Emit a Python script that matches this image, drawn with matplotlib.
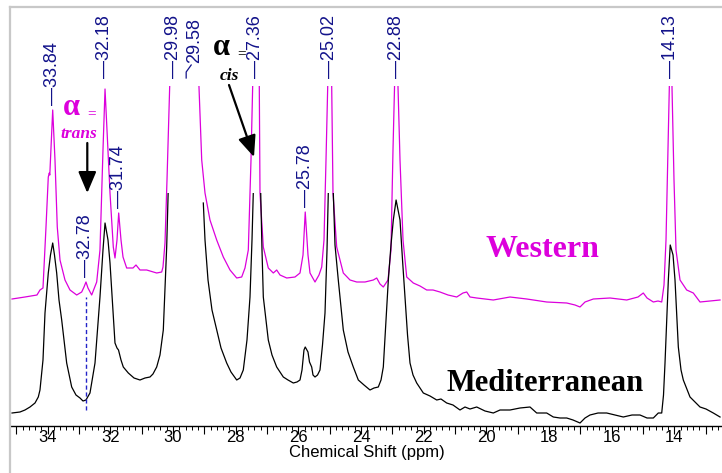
import numpy as np
import matplotlib
matplotlib.use("Agg")
import matplotlib.pyplot as plt
from matplotlib.patches import Rectangle
from matplotlib.lines import Line2D
from matplotlib.ticker import MultipleLocator, FuncFormatter

# ---------------- data ----------------
# Western spectrum (magenta): chemical shift (ppm) and intensity (a.u.)
western_ppm = [35.139, 34.725, 34.342, 34.246, 34.150, 34.054, 33.981, 33.949, 33.933, 33.840,
               33.767, 33.694, 33.607, 33.448, 33.288, 33.074, 32.915, 32.841, 32.778, 32.714,
               32.596, 32.436, 32.331, 32.235, 32.170, 32.075, 32.011, 31.906, 31.852, 31.788,
               31.734, 31.660, 31.596, 31.479, 31.277, 31.182, 31.054, 30.840, 30.521, 30.361,
               30.320, 30.256, 30.192, 30.128, 30.064, 29.980, 29.780, 29.580, 29.235, 29.171,
               29.084, 28.979, 28.820, 28.606, 28.395, 28.181, 27.967, 27.808, 27.703, 27.597,
               27.511, 27.457, 27.360, 27.246, 27.224, 27.118, 26.959, 26.799, 26.691, 26.585,
               26.371, 26.107, 25.947, 25.851, 25.780, 25.692, 25.628, 25.468, 25.341, 25.254,
               25.181, 25.117, 25.063, 25.020, 24.935, 24.894, 24.776, 24.565, 24.351, 24.137,
               23.872, 23.607, 23.499, 23.394, 23.288, 23.138, 23.043, 22.979, 22.930, 22.880,
               22.819, 22.755, 22.659, 22.541, 22.331, 22.117, 21.903, 21.702, 21.479, 21.223,
               20.945, 20.745, 20.626, 20.521, 20.307, 19.777, 19.244, 18.711, 18.072, 17.434,
               17.169, 17.010, 16.850, 16.585, 16.052, 15.519, 15.159, 14.990, 14.871, 14.670,
               14.520, 14.402, 14.329, 14.265, 14.201, 14.159, 14.130, 14.074, 14.010, 13.946,
               13.818, 13.605, 13.394, 13.180, 12.860, 12.541]
western_int = [127, 129, 131, 136, 138, 199, 249, 253, 251, 316,
               266, 199, 166, 146, 136, 131, 134, 139, 144, 138,
               131, 144, 176, 276, 337, 276, 233, 179, 168, 186,
               213, 186, 169, 158, 158, 161, 156, 156, 153, 154,
               159, 183, 246, 316, 386, 476, 430, 476, 386, 339,
               266, 233, 206, 186, 169, 156, 148, 149, 158, 176,
               266, 339, 476, 339, 233, 179, 158, 153, 156, 151,
               148, 149, 153, 171, 214, 171, 153, 144, 151, 159,
               186, 266, 339, 476, 339, 233, 179, 153, 146, 144,
               144, 146, 148, 142, 139, 146, 176, 276, 339, 476,
               339, 266, 186, 149, 143, 140, 136, 136, 134, 131,
               129, 133, 134, 129, 128, 126, 129, 127, 124, 123,
               121, 119, 124, 127, 128, 126, 129, 133, 128, 124,
               125, 124, 141, 186, 276, 339, 476, 339, 246, 176,
               146, 136, 133, 124, 125, 126]

# Mediterranean spectrum (black); NaN = gap in the trace
med_ppm = [35.139, 34.884, 34.725, 34.565, 34.405, 34.300, 34.246, 34.192, 34.150, 34.086,
           33.981, 33.911, 33.840, 33.783, 33.713, 33.639, 33.553, 33.394, 33.234, 33.097,
           32.969, 32.873, 32.778, 32.650, 32.490, 32.331, 32.235, 32.170, 32.075, 32.011,
           31.916, 31.852, 31.788, 31.740, 31.660, 31.587, 31.427, 31.245, 31.054, 30.894,
           30.735, 30.640, 30.521, 30.416, 30.310, 30.202, 30.144, 30.064, 29.980, np.nan,
           29.033, 28.979, 28.883, 28.756, 28.606, 28.468, 28.287, 28.150, 27.967, 27.862,
           27.757, 27.639, 27.543, 27.479, 27.438, 27.360, 27.201, 27.160, 27.118, 27.032,
           26.959, 26.841, 26.691, 26.480, 26.330, 26.161, 26.043, 25.947, 25.883, 25.820,
           25.780, 25.692, 25.644, 25.574, 25.532, 25.468, 25.388, 25.309, 25.229, 25.149,
           25.085, 25.044, 25.020, 24.884, 24.830, 24.725, 24.565, 24.415, 24.246, 24.086,
           23.904, 23.713, 23.585, 23.448, 23.361, 23.288, 23.202, 23.128, 23.043, 22.969,
           22.880, 22.755, 22.675, 22.595, 22.515, 22.436, 22.340, 22.222, 22.011, 21.798,
           21.583, 21.447, 21.265, 21.064, 20.841, 20.681, 20.521, 20.307, 20.042, 19.777,
           19.563, 19.244, 18.925, 18.606, 18.392, 18.073, 17.862, 17.648, 17.434, 17.233,
           17.010, 16.850, 16.691, 16.435, 16.158, 15.893, 15.628, 15.350, 15.095, 14.871,
           14.670, 14.511, 14.402, 14.345, 14.297, 14.191, 14.130, 14.041, 13.978, 13.872,
           13.786, 13.713, 13.499, 13.339, 13.180, 12.989, 12.756, 12.541]
med_int = [13, 14, 16, 19, 23, 29, 36, 53, 66, 113,
           153, 171, 183, 171, 153, 126, 106, 63, 39, 31,
           28, 25, 26, 33, 63, 129, 176, 203, 186, 163,
           116, 83, 78, 76, 66, 59, 53, 48, 46, 48,
           49, 52, 59, 71, 96, 179, 246, 326, 376, np.nan,
           223, 186, 146, 116, 96, 78, 63, 54, 46, 48,
           56, 86, 129, 186, 233, 290, 233, 176, 129, 106,
           86, 71, 59, 49, 46, 43, 44, 46, 56, 76,
           79, 74, 64, 59, 51, 49, 51, 56, 81, 113,
           176, 233, 290, 233, 181, 146, 96, 74, 59, 46,
           41, 36, 38, 39, 46, 59, 106, 146, 181, 206,
           226, 206, 166, 129, 91, 63, 51, 43, 33, 30,
           26, 27, 23, 21, 16, 19, 17, 19, 15, 13,
           16, 16, 18, 19, 13, 13, 9, 8, 8, 6,
           3, 8, 11, 13, 13, 11, 9, 11, 11, 8,
           8, 13, 13, 31, 63, 146, 181, 171, 146, 79,
           56, 46, 29, 24, 19, 17, 13, 9]

# peak labels
label_values = [33.84, 32.18, 31.74, 32.78, 29.98, 27.36, 25.78, 25.02, 22.88, 14.13]
label_heights = [321, 348, 218, 149, 348, 348, 219, 348, 348, 348]
label_2958_value = 29.58

# ---------------- figure ----------------
W, H = 722, 473
fig = plt.figure(figsize=(W / 100, H / 100), dpi=100)
ax = fig.add_axes([11 / W, (H - 426) / H, (W - 11) / W, (426 - 8) / H])
ax.set_xlim(35.171, 12.478)
ax.set_ylim(0, 418)

MAG = "#dc00dc"
NAVY = "#12128a"

lw_, = ax.plot(western_ppm, western_int, color=MAG, lw=0.9)
clip_w = Rectangle((12.0, -10), 24, 350, transform=ax.transData)
lw_.set_clip_path(clip_w)

lm_, = ax.plot(med_ppm, med_int, color="black", lw=0.9)
clip_m = Rectangle((12.0, -10), 24, 243, transform=ax.transData)
lm_.set_clip_path(clip_m)

# peak labels
for v, h in zip(label_values, label_heights):
    ax.text(v, h, "\u2014" + f"{v:.2f}", rotation=90, ha="center", va="bottom",
            color=NAVY, fontsize=13, family="Liberation Sans")
# 29.58 with bent leader
ax.plot([label_2958_value, label_2958_value, 29.42], [348, 354, 361], color=NAVY, lw=0.9)
ax.text(29.30, 363, f"{label_2958_value:.2f}", rotation=90, ha="center", va="bottom",
        color=NAVY, fontsize=13, family="Liberation Sans")

# dashed marker for 32.78
ax.plot([32.78, 32.78], [16, 129], color="#2424c8", lw=1.0, ls=(0, (3, 2)))

# alpha trans annotation
ax.text(33.24, 311, "\u03b1", color=MAG, fontsize=22, fontweight="bold",
        family="Liberation Serif", ha="center", va="baseline")
ax.text(32.60, 309, "=", color=MAG, fontsize=11, fontweight="bold",
        family="Liberation Serif", ha="center", va="baseline")
ax.text(33.00, 288, "trans", color=MAG, fontsize=12.5, fontweight="bold", style="italic",
        family="Liberation Serif", ha="center", va="baseline")
ax.annotate("", xy=(32.736, 233), xytext=(32.736, 283),
            arrowprops=dict(arrowstyle="-|>,head_length=1.3,head_width=0.55", color="black",
                            lw=1.6, shrinkA=0, shrinkB=0, mutation_scale=10))

# alpha cis annotation
ax.text(28.45, 371, "\u03b1", color="black", fontsize=22, fontweight="bold",
        family="Liberation Serif", ha="center", va="baseline")
ax.text(27.81, 369, "=", color="black", fontsize=11, fontweight="bold",
        family="Liberation Serif", ha="center", va="baseline")
ax.text(28.21, 346, "cis", color="black", fontsize=12.5, fontweight="bold", style="italic",
        family="Liberation Serif", ha="center", va="baseline")
ax.annotate("", xy=(27.415, 269), xytext=(28.213, 341),
            arrowprops=dict(arrowstyle="-|>,head_length=1.3,head_width=0.55", color="black",
                            lw=1.6, shrinkA=0, shrinkB=0, mutation_scale=10))

# sample names
ax.text(18.21, 169, "Western", color=MAG, fontsize=23, fontweight="bold",
        family="Liberation Serif", ha="center", va="baseline")
ax.text(18.13, 35, "Mediterranean", color="black", fontsize=22, fontweight="bold",
        family="Liberation Serif", ha="center", va="baseline")

# axes styling
for s in ("top", "left", "right"):
    ax.spines[s].set_visible(False)
ax.spines["bottom"].set_linewidth(1.0)
ax.set_yticks([])
ax.xaxis.set_major_locator(MultipleLocator(1))
ax.xaxis.set_minor_locator(MultipleLocator(0.2))
ax.xaxis.set_major_formatter(FuncFormatter(lambda v, p: f"{int(round(v))}" if int(round(v)) % 2 == 0 else ""))
ax.tick_params(axis="x", which="major", length=5.8, width=0.8, pad=-3.0, labelsize=12)
ax.tick_params(axis="x", which="minor", length=2.9, width=0.7)
for t in ax.get_xticklabels():
    t.set_family("Liberation Sans")
ax.set_xlabel("Chemical Shift (ppm)", fontsize=12, family="Liberation Sans", labelpad=0)

# light gray frame lines (top and left)
fig.add_artist(Line2D([10 / W, 1], [(H - 7) / H, (H - 7) / H], color="#c8c8c8", lw=1.6))
fig.add_artist(Line2D([10 / W, 10 / W], [0, (H - 7) / H], color="#c8c8c8", lw=1.6))

fig.savefig("out.png", dpi=100)
